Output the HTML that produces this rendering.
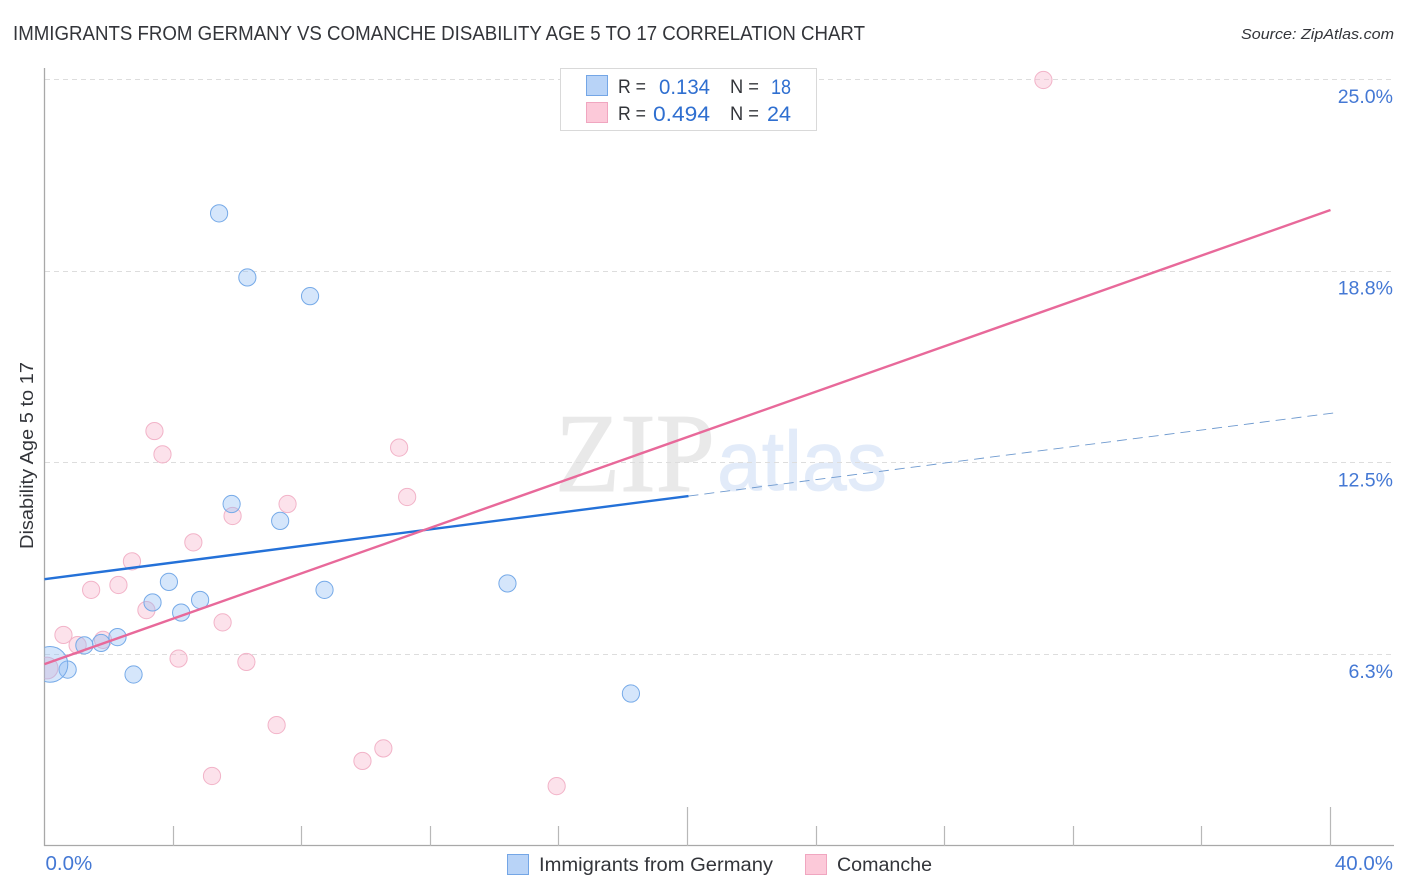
<!DOCTYPE html>
<html lang="en">
<head>
<meta charset="utf-8">
<title>Immigrants from Germany vs Comanche Disability Age 5 to 17 Correlation Chart</title>
<style>
html,body{margin:0;padding:0;background:#fff;width:1406px;height:892px;overflow:hidden}
svg{display:block;font-family:"Liberation Sans",sans-serif}
</style>
</head>
<body>
<svg id="chart" xmlns="http://www.w3.org/2000/svg" width="1406" height="892" viewBox="0 0 1406 892">
  <text x="13" y="40" font-size="20" fill="#33353a" textLength="852" lengthAdjust="spacingAndGlyphs">IMMIGRANTS FROM GERMANY VS COMANCHE DISABILITY AGE 5 TO 17 CORRELATION CHART</text>
  <text x="1241" y="39" font-size="15" font-style="italic" fill="#33353a" textLength="153" lengthAdjust="spacingAndGlyphs">Source: ZipAtlas.com</text>
  <g>
    <text x="555" y="491" font-family="'Liberation Serif',serif" font-size="112" fill="#e9e9e9" stroke="#e9e9e9" stroke-width="1" textLength="160" lengthAdjust="spacingAndGlyphs">ZIP</text>
    <text x="717" y="490" font-size="84" fill="#e2ebf9" stroke="#e2ebf9" stroke-width="0.8" textLength="170" lengthAdjust="spacingAndGlyphs">atlas</text>
  </g>
  <g id="grid"></g>
  <g id="axes"></g>
  <defs><clipPath id="plot-clip"><rect x="44.5" y="60" width="1350" height="786"></rect></clipPath></defs>
  <g id="points" clip-path="url(#plot-clip)"></g>
  <g id="trends"></g>
  <text transform="translate(33,549) rotate(-90)" font-size="18" fill="#33353a" textLength="187" lengthAdjust="spacingAndGlyphs">Disability Age 5 to 17</text>
  <g>
    <rect x="560.5" y="68.5" width="256" height="62" fill="#fff" stroke="#d9d9d9"></rect>
    <rect x="586.5" y="75.5" width="21" height="20" fill="#b8d3f7" stroke="#74a6e6"></rect>
    <text x="618" y="93" font-size="19" fill="#33353a" textLength="28" lengthAdjust="spacingAndGlyphs">R =</text>
    <text x="659" y="94" font-size="21" fill="#2f6fd0" textLength="51" lengthAdjust="spacingAndGlyphs">0.134</text>
    <text x="730" y="93" font-size="19" fill="#33353a" textLength="29" lengthAdjust="spacingAndGlyphs">N =</text>
    <text x="771" y="94" font-size="21" fill="#2f6fd0" textLength="20" lengthAdjust="spacingAndGlyphs">18</text>
    <rect x="586.5" y="102.5" width="21" height="20" fill="#fcc9d9" stroke="#f0a6c0"></rect>
    <text x="618" y="120" font-size="19" fill="#33353a" textLength="28" lengthAdjust="spacingAndGlyphs">R =</text>
    <text x="653" y="121" font-size="21" fill="#2f6fd0" textLength="57" lengthAdjust="spacingAndGlyphs">0.494</text>
    <text x="730" y="120" font-size="19" fill="#33353a" textLength="29" lengthAdjust="spacingAndGlyphs">N =</text>
    <text x="767" y="121" font-size="21" fill="#2f6fd0" textLength="24" lengthAdjust="spacingAndGlyphs">24</text>
  </g>
  <g>
    <rect x="507.5" y="854.5" width="21" height="20" fill="#b8d3f7" stroke="#74a6e6"></rect>
    <text x="539" y="871" font-size="19" fill="#33353a" textLength="234" lengthAdjust="spacingAndGlyphs">Immigrants from Germany</text>
    <rect x="805.5" y="854.5" width="21" height="20" fill="#fcc9d9" stroke="#f0a6c0"></rect>
    <text x="837" y="871" font-size="19" fill="#33353a" textLength="95" lengthAdjust="spacingAndGlyphs">Comanche</text>
  </g>
</svg>
<script>
const germanyX = [5.43, 6.31, 8.26, 5.82, 7.33, 3.87, 3.36, 4.84, 4.25, 8.71, 14.40, 2.27, 1.76, 1.24, 0.72, 2.77, 18.24, 0.17];
const germanyY = [20.65, 18.56, 17.95, 11.17, 10.62, 8.63, 7.96, 8.04, 7.63, 8.37, 8.58, 6.83, 6.64, 6.56, 5.77, 5.61, 4.99, 5.94];
const germanyWeight = [1, 1, 1, 1, 1, 1, 1, 1, 1, 1, 1, 1, 1, 1, 1, 1, 1, 4.3];
const comancheX = [31.07, 3.42, 3.67, 11.03, 11.28, 7.56, 5.85, 4.63, 2.72, 2.30, 1.45, 3.17, 5.54, 0.59, 1.03, 1.82, 4.17, 6.28, 7.22, 10.54, 9.89, 5.21, 15.93, 0.08];
const comancheY = [25.00, 13.55, 12.79, 13.01, 11.40, 11.17, 10.78, 9.92, 9.30, 8.53, 8.37, 7.71, 7.31, 6.90, 6.57, 6.74, 6.13, 6.02, 3.96, 3.20, 2.79, 2.30, 1.97, 5.82];
const comancheWeight = [1, 1, 1, 1, 1, 1, 1, 1, 1, 1, 1, 1, 1, 1, 1, 1, 1, 1, 1, 1, 1, 1, 1, 1.6];
const germanyTrendX = [0, 20.03, 40.1];
const germanyTrendY = [8.72, 11.43, 14.14];
const comancheTrendX = [0, 40];
const comancheTrendY = [5.95, 20.76];
const yTickValues = [6.25, 12.5, 18.75, 25];
const yTickLabels = ['6.3%', '12.5%', '18.8%', '25.0%'];
const xTickValues = [0, 4, 8, 12, 16, 20, 24, 28, 32, 36, 40];
const xEndValues = [0, 40];
const xEndLabels = ['0.0%', '40.0%'];
const xMajorTicks = [20, 40];

const NS = 'http://www.w3.org/2000/svg';
function xScale(v) { return 44.5 + v * 32.15; }
function yScale(v) { return 846.5 - v * 30.66; }
function make(parent, tag, attrs) {
  const el = document.createElementNS(NS, tag);
  for (const k in attrs) el.setAttribute(k, attrs[k]);
  parent.appendChild(el);
  return el;
}
const grid = document.getElementById('grid');
const axes = document.getElementById('axes');
const points = document.getElementById('points');
const trends = document.getElementById('trends');

yTickValues.forEach(function (v, i) {
  const y = Math.round(yScale(v)) - 0.5;
  const line = make(grid, 'line', {x1: 45, x2: 1394, y1: y, y2: y, stroke: '#dddddd', 'stroke-width': 1, 'stroke-dasharray': '5 4'});
  
  
  const label = make(axes, 'text', {x: 1393, y: yScale(v) + 23, 'text-anchor': 'end', 'font-size': 19.5, fill: '#4478d4'});
  label.textContent = yTickLabels[i];
  
  
});

const yAxisLine = make(axes, 'line', {x1: 44.5, x2: 44.5, y1: 68, y2: 846, stroke: '#a8a8a8', 'stroke-width': 1.3});


const xAxisLine = make(axes, 'line', {x1: 44, x2: 1394, y1: 845.5, y2: 845.5, stroke: '#a8a8a8', 'stroke-width': 1.3});



xTickValues.forEach(function (v) {
  if (v === 0) return;
  const x = Math.floor(xScale(v)) + 0.5;
  const top = xMajorTicks.indexOf(v) >= 0 ? 807 : 826;
  const tick = make(axes, 'line', {x1: x, x2: x, y1: top, y2: 846, stroke: '#b8b8b8', 'stroke-width': 1.2});
  
  
});
xEndValues.forEach(function (v, i) {
  const label = make(axes, 'text', i === 0
    ? {x: xScale(v) + 1, y: 870, 'font-size': 20.5, fill: '#4478d4'}
    : {x: 1393, y: 870, 'text-anchor': 'end', 'font-size': 20.5, fill: '#4478d4'});
  label.textContent = xEndLabels[i];
  
  
});

comancheX.forEach(function (v, i) {
  const c = make(points, 'circle', {cx: xScale(v), cy: yScale(comancheY[i]), r: 8.6 * Math.sqrt(comancheWeight[i]), fill: 'rgba(248,187,208,0.42)', stroke: '#f2b3c8', 'stroke-width': 1});
  
  
});
germanyX.forEach(function (v, i) {
  const c = make(points, 'circle', {cx: xScale(v), cy: yScale(germanyY[i]), r: 8.6 * Math.sqrt(germanyWeight[i]), fill: 'rgba(144,190,245,0.38)', stroke: '#76aae8', 'stroke-width': 1});
  
  
});

const germanySolid = make(trends, 'line', {x1: xScale(germanyTrendX[0]), y1: yScale(germanyTrendY[0]), x2: xScale(germanyTrendX[1]), y2: yScale(germanyTrendY[1]), stroke: '#2471d8', 'stroke-width': 2.4});


const germanyDashed = make(trends, 'line', {x1: xScale(germanyTrendX[1]), y1: yScale(germanyTrendY[1]), x2: xScale(germanyTrendX[2]), y2: yScale(germanyTrendY[2]), stroke: '#6f9acf', 'stroke-width': 0.9, 'stroke-dasharray': '10 6'});


const comancheLine = make(trends, 'line', {x1: xScale(comancheTrendX[0]), y1: yScale(comancheTrendY[0]), x2: xScale(comancheTrendX[1]), y2: yScale(comancheTrendY[1]), stroke: '#e8699a', 'stroke-width': 2.4});


</script>
</body>
</html>
